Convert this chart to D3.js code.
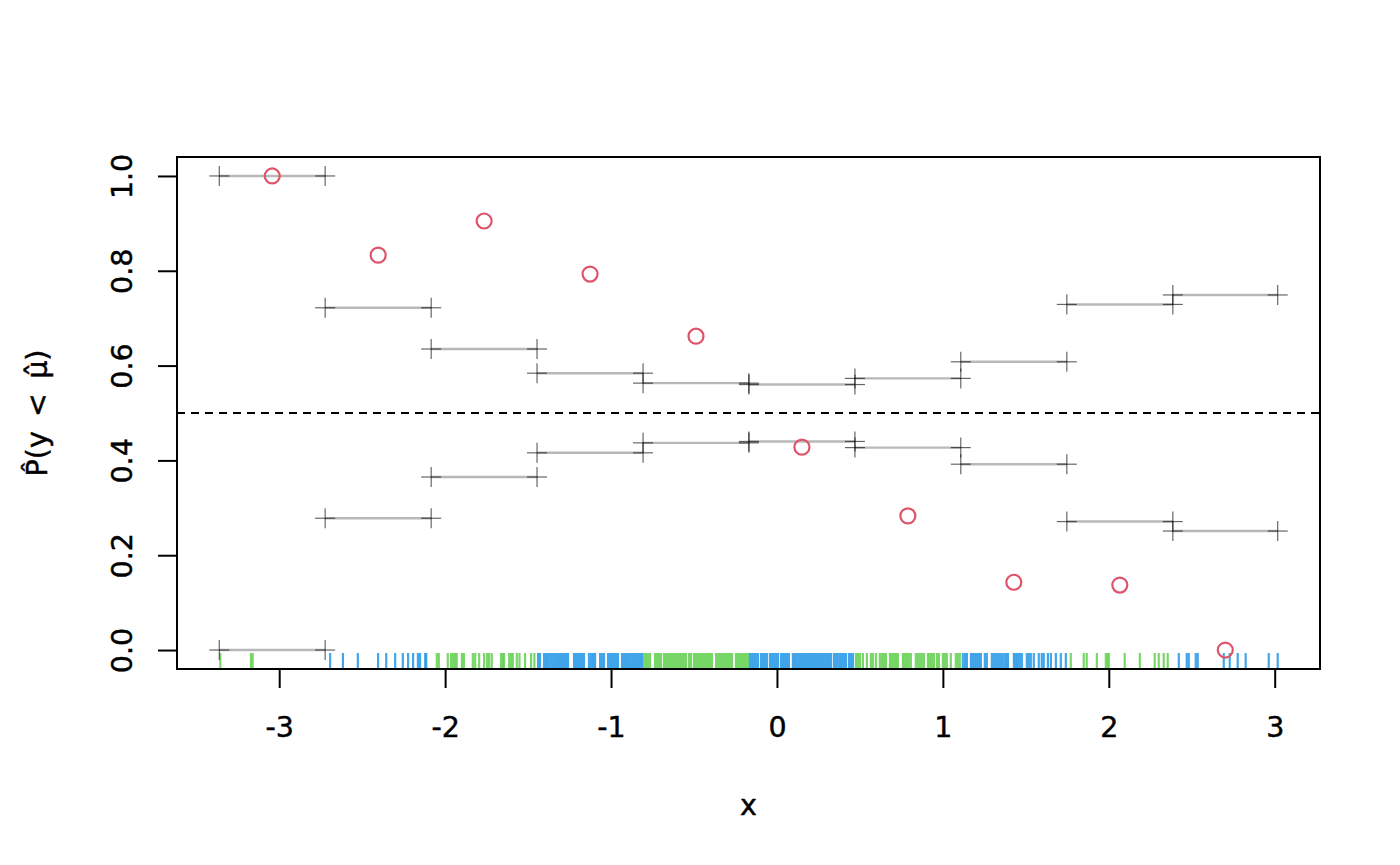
<!DOCTYPE html>
<html>
<head>
<meta charset="utf-8">
<script src="https://cdn.jsdelivr.net/npm/d3@7"></script>
<style>
  html, body { margin: 0; padding: 0; background: #fff; }
  svg { display: block; font-family: "DejaVu Sans", sans-serif; }
  svg text { stroke: #000; stroke-width: 0.45px; }
</style>
</head>
<body>
<svg id="chart" width="1400" height="865"></svg>
<script>
// ---- data ----
const breaks = [-3.361, -2.723, -2.084, -1.446, -0.807, -0.169, 0.470, 1.108, 1.747, 2.386, 3.018];
const upper  = [1.0, 0.722, 0.635, 0.584, 0.563, 0.560, 0.573, 0.608, 0.729, 0.749];
const lower  = [0.0, 0.278, 0.365, 0.416, 0.437, 0.440, 0.427, 0.392, 0.271, 0.251];
const props  = [1.0, 0.833, 0.905, 0.793, 0.662, 0.428, 0.283, 0.143, 0.137, 0.0];

const xTicks = [-3, -2, -1, 0, 1, 2, 3];
const yTicks = [0, 0.2, 0.4, 0.6, 0.8, 1.0];

// x values of the rug, bin by bin
const rugX = [
  -3.355, -3.17, -3.16,
  -2.693, -2.616, -2.526, -2.404, -2.355, -2.301, -2.255, -2.223, -2.193, -2.164, -2.151, -2.120, -2.114,
  -2.050, -2.038, -1.984, -1.964, -1.952, -1.940, -1.930, -1.899, -1.887, -1.833, -1.819, -1.795, -1.765,
  -1.747, -1.735, -1.719, -1.663, -1.652, -1.645, -1.614, -1.602, -1.592, -1.568, -1.552, -1.518, -1.482, -1.462,
  -1.440, -1.428, -1.404, -1.392, -1.380, -1.367, -1.355, -1.343, -1.331, -1.319, -1.307, -1.295, -1.283,
  -1.271, -1.259, -1.223, -1.211, -1.199, -1.187, -1.175, -1.163, -1.133, -1.120, -1.108, -1.096, -1.066,
  -1.054, -1.042, -1.018, -1.006, -0.994, -0.982, -0.970, -0.958, -0.934, -0.922, -0.910, -0.898, -0.886,
  -0.873, -0.861, -0.849, -0.837, -0.825, -0.813,
  -0.801, -0.789, -0.777, -0.765, -0.735, -0.723, -0.711, -0.699, -0.681, -0.669, -0.657, -0.645, -0.633,
  -0.620, -0.608, -0.596, -0.584, -0.572, -0.560, -0.548, -0.530, -0.518, -0.500, -0.488, -0.476, -0.464,
  -0.452, -0.440, -0.428, -0.416, -0.404, -0.392, -0.367, -0.355, -0.343, -0.331, -0.319, -0.307, -0.295,
  -0.283, -0.271, -0.247, -0.235, -0.223, -0.211, -0.199, -0.187, -0.175,
  -0.163, -0.151, -0.139, -0.127, -0.114, -0.096, -0.084, -0.072, -0.060, -0.042, -0.030, -0.018, -0.006,
  0.006, 0.024, 0.036, 0.048, 0.060, 0.072, 0.096, 0.108, 0.120, 0.133, 0.145, 0.157, 0.169, 0.181, 0.193,
  0.205, 0.217, 0.229, 0.241, 0.253, 0.265, 0.277, 0.289, 0.301, 0.313, 0.325, 0.343, 0.355, 0.367, 0.380,
  0.392, 0.404, 0.416, 0.434, 0.446, 0.458,
  0.476, 0.488, 0.500, 0.518, 0.542, 0.566, 0.578, 0.596, 0.620, 0.633, 0.645, 0.657, 0.681, 0.693, 0.705,
  0.717, 0.729, 0.759, 0.771, 0.783, 0.795, 0.807, 0.837, 0.849, 0.861, 0.873, 0.886, 0.910, 0.922, 0.934,
  0.946, 0.964, 0.976, 1.000, 1.012, 1.024, 1.048, 1.078, 1.090, 1.102,
  1.120, 1.133, 1.145, 1.169, 1.181, 1.193, 1.205, 1.217, 1.229, 1.253, 1.265, 1.295, 1.307, 1.319, 1.331,
  1.343, 1.355, 1.367, 1.380, 1.392, 1.428, 1.440, 1.452, 1.464, 1.476, 1.506, 1.518, 1.530, 1.548, 1.578,
  1.596, 1.608, 1.633, 1.651, 1.681, 1.711, 1.741,
  1.771, 1.849, 1.867, 1.928, 1.982, 1.992, 2.000, 2.096, 2.187, 2.277, 2.301, 2.331, 2.355,
  2.422, 2.470, 2.482, 2.524, 2.536, 2.693, 2.729, 2.777, 2.825, 2.964, 3.018
];

// ---- layout ----
const plot = { left: 177, right: 1320, top: 157, bottom: 669 };
const svg = d3.select('#chart');
const fs = 28.5;

const x = d3.scaleLinear().domain([-3.616, 3.273]).range([plot.left, plot.right]);
const y = d3.scaleLinear().domain([-0.04, 1.04]).range([plot.bottom, plot.top]);

const green = 'rgba(97,208,79,0.85)';
const blue  = 'rgba(34,151,230,0.85)';
const binOf = v => Math.max(0, Math.min(9, d3.bisectRight(breaks, v) - 1));

// rug
svg.append('g').selectAll('line').data(rugX).join('line')
  .attr('x1', d => x(d)).attr('x2', d => x(d))
  .attr('y1', plot.bottom).attr('y2', plot.bottom - 16)
  .attr('stroke', d => binOf(d) % 2 === 0 ? green : blue)
  .attr('stroke-width', 2.2);

// dashed 0.5 line
svg.append('line')
  .attr('x1', plot.left).attr('x2', plot.right)
  .attr('y1', y(0.5)).attr('y2', y(0.5))
  .attr('stroke', '#000').attr('stroke-width', 2)
  .attr('stroke-dasharray', '8,6');

// interval segments
const bins = d3.range(upper.length);
const segs = bins.flatMap(i => [
  { x0: breaks[i], x1: breaks[i + 1], v: upper[i] },
  { x0: breaks[i], x1: breaks[i + 1], v: lower[i] }
]);
svg.append('g').selectAll('line').data(segs).join('line')
  .attr('x1', d => x(d.x0)).attr('x2', d => x(d.x1))
  .attr('y1', d => y(d.v)).attr('y2', d => y(d.v))
  .attr('stroke', 'rgba(0,0,0,0.28)').attr('stroke-width', 2.4);

// "+" markers at segment ends
const pts = segs.flatMap(s => [{ x: s.x0, v: s.v }, { x: s.x1, v: s.v }]);
const cr = svg.append('g').attr('stroke', 'rgba(0,0,0,0.6)').attr('stroke-width', 1.2);
pts.forEach(p => {
  const cx = x(p.x), cy = y(p.v);
  cr.append('line').attr('x1', cx - 10).attr('x2', cx + 10).attr('y1', cy).attr('y2', cy);
  cr.append('line').attr('x1', cx).attr('x2', cx).attr('y1', cy - 10).attr('y2', cy + 10);
});

// observed proportions
svg.append('g').selectAll('circle').data(bins).join('circle')
  .attr('cx', i => x((breaks[i] + breaks[i + 1]) / 2))
  .attr('cy', i => y(props[i]))
  .attr('r', 7.5)
  .attr('fill', 'none').attr('stroke', '#DF536B').attr('stroke-width', 2.2);

// box
svg.append('rect')
  .attr('x', plot.left).attr('y', plot.top)
  .attr('width', plot.right - plot.left).attr('height', plot.bottom - plot.top)
  .attr('fill', 'none').attr('stroke', '#000').attr('stroke-width', 2);

// axes
const xAxis = svg.append('g').attr('transform', `translate(0,${plot.bottom})`)
  .call(d3.axisBottom(x).tickValues(xTicks).tickSize(19).tickFormat(d3.format('d')));
xAxis.select('.domain').remove();
xAxis.selectAll('line').attr('stroke-width', 2);
xAxis.selectAll('text')
  .attr('y', 68).attr('dy', null)
  .attr('font-size', fs).attr('font-family', '"DejaVu Sans", sans-serif').attr('fill', '#000')
  .text(d => d < 0 ? '-' + Math.abs(d) : d);

const yAxis = svg.append('g').attr('transform', `translate(${plot.left},0)`)
  .call(d3.axisLeft(y).tickValues(yTicks).tickSize(19).tickFormat(d3.format('.1f')));
yAxis.select('.domain').attr('d', `M0,${y(0)}V${y(1)}`).attr('stroke-width', 2);
yAxis.selectAll('line').attr('stroke-width', 2);
yAxis.selectAll('text')
  .attr('x', null).attr('dy', null)
  .attr('transform', 'translate(-45,0) rotate(-90)')
  .attr('text-anchor', 'middle')
  .attr('font-size', fs).attr('font-family', '"DejaVu Sans", sans-serif').attr('fill', '#000');

// axis titles
svg.append('text')
  .attr('x', (plot.left + plot.right) / 2).attr('y', 815)
  .attr('text-anchor', 'middle').attr('font-size', fs)
  .text('x');

svg.append('text')
  .attr('transform', `translate(47,${(plot.top + plot.bottom) / 2}) rotate(-90)`)
  .attr('text-anchor', 'middle').attr('font-size', fs)
  .text('P\u0302(y\u2002<\u2002\u03BC\u0302)');
</script>
</body>
</html>
